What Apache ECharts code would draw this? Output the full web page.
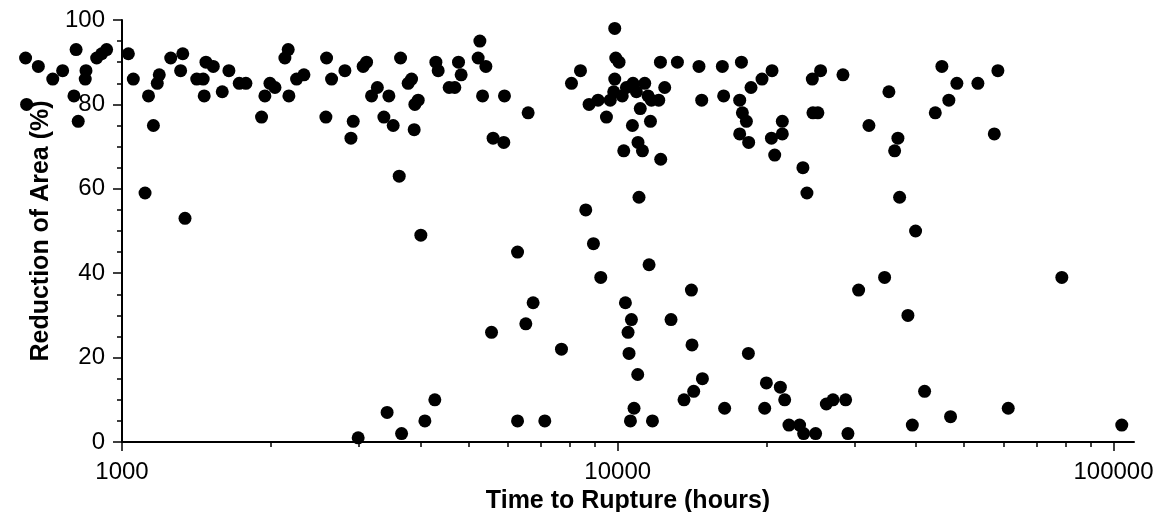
<!DOCTYPE html>
<html><head><meta charset="utf-8">
<script src="https://cdn.jsdelivr.net/npm/echarts@6/dist/echarts.min.js"></script>
<style>html,body{margin:0;padding:0;background:#fff}#c{width:1171px;height:512px}</style>
</head><body><div id="c"></div>
<script>
// Time to rupture (hours) and reduction of area (%)
const hours = [
  639,678,725,759,808,846,843,800,816,642,889,910,931,
  1030,1054,1131,1157,1178,1189,1254,1313,1326,1415,1458,1465,1477,1528,1593,1643,1724,1778,
  1912,1942,1988,2035,2131,2164,2171,2250,2328,2586,2647,2578,2816,2927,2896,3065,3114,3187,
  3274,3375,3454,3647,3524,3778,3838,3897,3958,3885,4297,4343,4570,4692,4773,4832,5271,5229,
  5420,5337,5909,5605,5890,6596,3624,1113,1340,
  8067,8411,8753,9126,9489,9862,9908,10061,9862,9815,9658,10211,10411,10735,10906,11336,11513,
  11695,12097,12438,11103,10283,10705,10987,11216,11641,12209,12193,13193,
  14584,16256,14770,16355,17762,20475,19544,18571,17620,17842,18177,17620,18370,21478,21478,
  20418,20732,23633,24079,24686,25656,28465,24760,25337,32114,35237,36742,36188,37033,45066,
  48316,53272,58456,46547,43706,57489,
  4007,5564,2995,3426,3664,4083,4276,6279,6750,6525,7700,6279,7126,8620,8933,9242,11038,11566,
  10363,10656,10491,10539,10972,10786,10607,11749,14080,12808,14119,14818,14230,13605,16430,
  18345,19945,21281,21716,19789,22151,23272,23714,25071,26347,27181,28823,29131,39886,34540,
  30612,38489,78668,41591,39285,46918,61335,103922
];
const reduction = [
  91,89,86,88,93,88,86,82,76,80,91,92,93,
  92,86,82,75,85,87,91,88,92,86,86,82,90,89,83,88,85,85,
  77,82,85,84,91,93,82,86,87,91,86,77,88,76,72,89,90,82,
  84,77,82,91,75,85,86,80,81,74,90,88,84,84,90,87,95,91,
  89,82,82,72,71,78,63,59,53,
  85,88,80,81,77,98,91,90,86,83,81,82,84,85,83,85,82,
  81,81,84,79,69,75,71,69,76,67,90,90,
  89,89,81,82,90,88,86,84,81,78,76,73,71,76,73,
  72,68,65,59,86,88,87,78,78,75,83,72,69,58,89,
  85,85,88,81,78,73,
  49,26,1,7,2,5,10,45,33,28,22,5,5,55,47,39,58,42,
  33,29,26,21,16,8,5,5,36,29,23,15,12,10,8,
  21,14,13,10,8,4,4,2,2,9,10,10,2,50,39,
  36,30,39,12,4,6,8,4
];
const xMajorTicks = [1000, 10000, 100000];
const xMinorTicks = [2000,3000,4000,5000,6000,7000,8000,9000,20000,30000,40000,50000,60000,70000,80000,90000];
const yMin = 0, yMax = 100, yStep = 20;
const xMin = 1000, xMax = 110000;

const points = hours.map((h, i) => [h, reduction[i]]);
const FONT = '"Liberation Sans", Arial, sans-serif';

const chart = echarts.init(document.getElementById('c'), null, {renderer: 'canvas'});
chart.setOption({
  animation: false,
  backgroundColor: '#fff',
  grid: {left: 122, top: 20, width: 1012, height: 422, outerBoundsMode: 'none', containLabel: false},
  xAxis: [{
    type: 'log', logBase: 10, min: xMin, max: xMax,
    name: 'Time to Rupture (hours)', nameLocation: 'middle', nameGap: 37,
    nameTextStyle: {fontFamily: FONT, fontWeight: 'bold', fontSize: 25, color: '#000'},
    axisLine: {show: true, onZero: false, lineStyle: {color: '#000', width: 2}},
    axisTick: {show: true, inside: false, length: 9, customValues: xMajorTicks, lineStyle: {color: '#000', width: 1.5}},
    axisLabel: {show: true, margin: 18, customValues: xMajorTicks, formatter: v => String(v),
      fontFamily: FONT, fontSize: 24, color: '#000'},
    splitLine: {show: false}, minorTick: {show: false}
  }, {
    type: 'log', logBase: 10, min: xMin, max: xMax, position: 'bottom',
    axisLine: {show: false},
    axisTick: {show: true, inside: false, length: 5, customValues: xMinorTicks, lineStyle: {color: '#000', width: 1.5}},
    axisLabel: {show: false},
    splitLine: {show: false}
  }],
  yAxis: {
    type: 'value', min: yMin, max: yMax, interval: yStep,
    name: 'Reduction of Area (%)', nameLocation: 'middle', nameGap: 64,
    nameTextStyle: {fontFamily: FONT, fontWeight: 'bold', fontSize: 25, color: '#000'},
    axisLine: {show: true, lineStyle: {color: '#000', width: 2}},
    axisTick: {show: true, inside: false, length: 9, lineStyle: {color: '#000', width: 1.5}},
    minorTick: {show: true, splitNumber: 4, length: 5, lineStyle: {color: '#000', width: 1.5}},
    axisLabel: {margin: 17, fontFamily: FONT, fontSize: 24, color: '#000'},
    splitLine: {show: false}
  },
  series: [{
    type: 'scatter', xAxisIndex: 0, clip: false, silent: true,
    symbol: 'circle', symbolSize: 13,
    itemStyle: {color: '#000', opacity: 1},
    data: points
  }]
});
</script></body></html>
